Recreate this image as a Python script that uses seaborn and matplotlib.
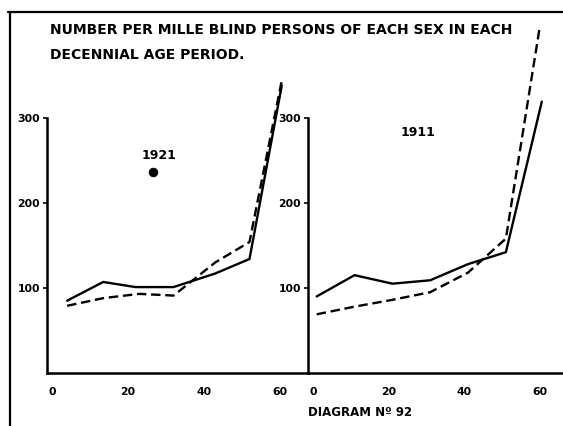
import matplotlib
matplotlib.use("Agg")
import matplotlib.pyplot as plt
from matplotlib.lines import Line2D
import seaborn as sns
import pandas as pd

# ---- data ----
ages_1921_solid = [4, 13.5, 22, 32, 43, 52, 60.5]
vals_1921_solid = [85, 107, 101, 101, 117, 134, 338]
ages_1921_dashed = [4, 13.5, 23, 32, 43, 52, 60.5]
vals_1921_dashed = [79, 88, 93, 91, 130, 154, 344]

ages_1911_solid = [1, 11, 21, 31, 41, 51, 60.5]
vals_1911_solid = [90, 115, 105, 109, 128, 142, 319]
ages_1911_dashed = [1, 11, 21, 31, 41, 51, 60]
vals_1911_dashed = [69, 78, 86, 95, 118, 158, 408]

stray_dot_age = [26.5]
stray_dot_value = [236]

x_ticks = [0, 20, 40, 60]
y_ticks = [100, 200, 300]
panel_labels = ["1921", "1911"]
title_lines = ["NUMBER PER MILLE BLIND PERSONS OF EACH SEX IN EACH",
               "DECENNIAL AGE PERIOD."]
footer = "DIAGRAM N\u00ba 92"


def frame(ages_s, vals_s, ages_d, vals_d):
    a = pd.DataFrame({"age": ages_s, "value": vals_s, "sex": "Males"})
    b = pd.DataFrame({"age": ages_d, "value": vals_d, "sex": "Females"})
    return pd.concat([a, b], ignore_index=True)


df_1921 = frame(ages_1921_solid, vals_1921_solid, ages_1921_dashed, vals_1921_dashed)
df_1911 = frame(ages_1911_solid, vals_1911_solid, ages_1911_dashed, vals_1911_dashed)

sns.set_style("white")
plt.rcParams["font.family"] = ["DejaVu Sans"]
plt.rcParams["font.weight"] = "bold"
plt.rcParams["text.color"] = "black"
plt.rcParams["xtick.color"] = "black"
plt.rcParams["ytick.color"] = "black"
plt.rcParams["axes.labelcolor"] = "black"

fig = plt.figure(figsize=(5.63, 4.26), dpi=100)
W, H = 563, 426
bottom_px, top_px = 373, 14
axL = fig.add_axes([47 / W, (H - bottom_px) / H, (308 - 47) / W, (bottom_px - top_px) / H])
axR = fig.add_axes([308 / W, (H - bottom_px) / H, (W - 308) / W, (bottom_px - top_px) / H])

dashes = {"Males": "", "Females": (4, 2)}
for ax, df, lab, xlim, ly in [
    (axL, df_1921, panel_labels[0], (-1.3, 67.4), 0.607),
    (axR, df_1911, panel_labels[1], (-1.3, 66.1), 0.669),
]:
    sns.lineplot(data=df, x="age", y="value", style="sex", dashes=dashes,
                 color="black", linewidth=1.7, legend=False, ax=ax,
                 estimator=None, sort=True)
    ax.set_xlim(*xlim)
    ax.set_ylim(0, 422)
    ax.set_xticks(x_ticks)
    ax.set_yticks(y_ticks)
    ax.set_xlabel("")
    ax.set_ylabel("")
    ax.patch.set_alpha(0)
    for s in ["top", "right"]:
        ax.spines[s].set_visible(False)
    ax.spines["left"].set_bounds(0, 300)
    ax.spines["left"].set_linewidth(1.8)
    ax.spines["bottom"].set_linewidth(1.8)
    ax.spines["left"].set_color("black")
    ax.spines["bottom"].set_color("black")
    ax.tick_params(axis="x", length=0, pad=10, labelsize=7.8)
    ax.tick_params(axis="y", length=3, width=1.2, pad=2, labelsize=7.8, direction="out", left=True)
    for t in ax.get_xticklabels() + ax.get_yticklabels():
        t.set_fontweight("bold")
    ax.text(0.431, ly, lab, transform=ax.transAxes, ha="center", va="center",
            fontsize=9, fontweight="bold")

sns.scatterplot(x=stray_dot_age, y=stray_dot_value, ax=axL, color="black", s=40,
                edgecolor="black", legend=False)

fig.text(50 / W, 1 - 30 / H, title_lines[0], ha="left", va="center",
         fontsize=10, fontweight="bold")
fig.text(50 / W, 1 - 55 / H, title_lines[1], ha="left", va="center",
         fontsize=10, fontweight="bold")
fig.text(360 / W, 1 - 412 / H, footer, ha="center", va="center",
         fontsize=8.5, fontweight="bold")

fig.add_artist(Line2D([8 / W, 1], [1 - 12 / H, 1 - 12 / H], color="black", lw=1.6,
                      transform=fig.transFigure))
fig.add_artist(Line2D([10 / W, 10 / W], [0, 1 - 12 / H], color="black", lw=1.6,
                      transform=fig.transFigure))

fig.savefig("out.png", dpi=100)
